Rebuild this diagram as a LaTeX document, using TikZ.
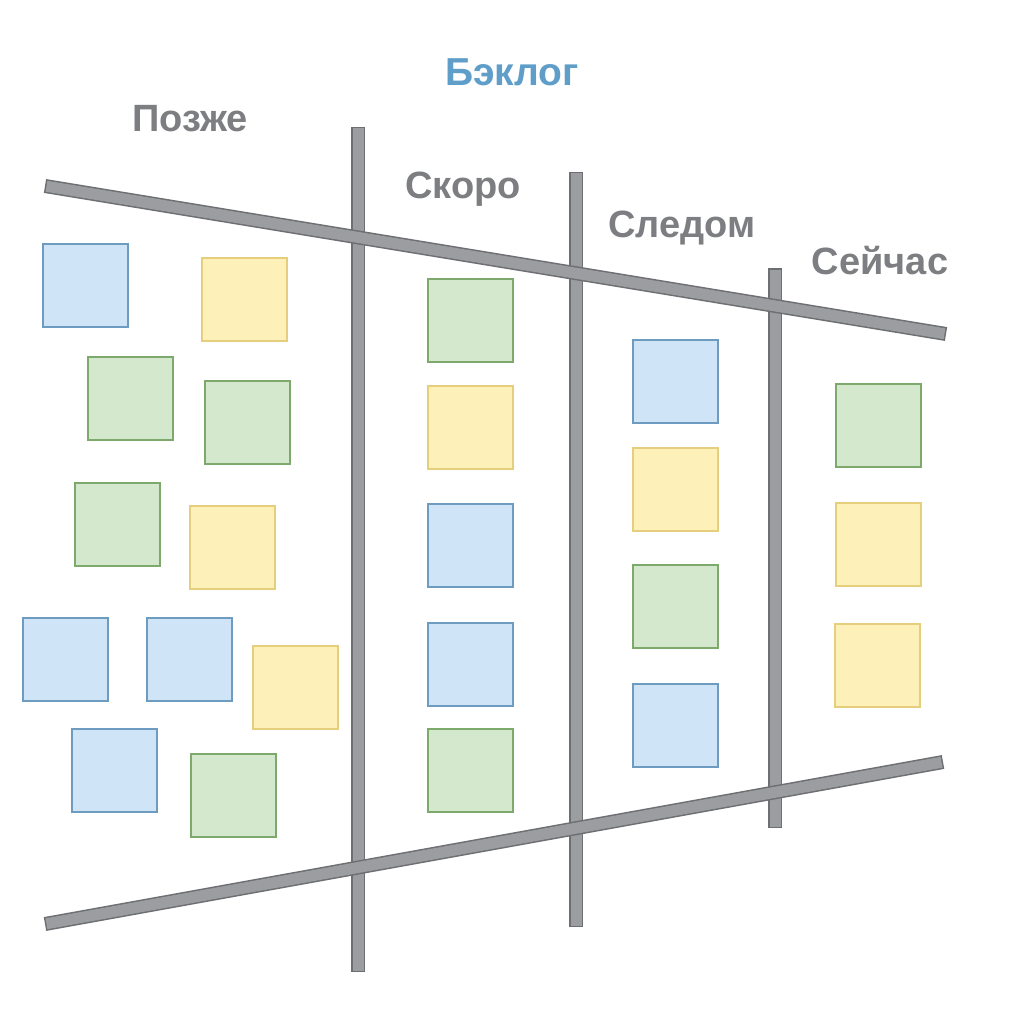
\documentclass[tikz,border=0pt]{standalone}
\usepackage{fontspec}
\setmainfont{Liberation Sans}
\usepackage{tikz}

\definecolor{barfill}{HTML}{9C9DA0}
\definecolor{baredge}{HTML}{6E6F72}
\definecolor{headgray}{HTML}{7D7E81}
\definecolor{headblue}{HTML}{5E9EC9}
\definecolor{bluefill}{HTML}{CFE5F7}
\definecolor{blueedge}{HTML}{6E9BC0}
\definecolor{yellowfill}{HTML}{FDF0B8}
\definecolor{yellowedge}{HTML}{E5CE7C}
\definecolor{greenfill}{HTML}{D4E8CD}
\definecolor{greenedge}{HTML}{7DA96D}

\tikzset{
  note/.style={draw,line width=1.6pt,minimum width=85pt,minimum height=83pt,inner sep=0pt},
  bluenote/.style={note,fill=bluefill,draw=blueedge},
  yellownote/.style={note,fill=yellowfill,draw=yellowedge},
  greennote/.style={note,fill=greenfill,draw=greenedge},
  head/.style={font=\fontsize{38}{43}\selectfont\bfseries,text=headgray},
  baredge/.style={draw=baredge,line width=14pt},
  barcore/.style={draw=barfill,line width=11pt,shorten <=1.5pt,shorten >=1.5pt}
}

\begin{document}
\begin{tikzpicture}[x=1pt,y=-1pt]
\useasboundingbox[fill=white] (0,0) rectangle (1024,1024);

% Headings
\node[head,text=headblue,font=\fontsize{39}{44}\selectfont\bfseries] (backlog) at (512,72) {Бэклог};
\node[head] (later) at (190,119) {Позже};
\node[head] (soon) at (463,189) {Скоро};
\node[head] (next) at (682,228) {Следом};
\node[head] (now) at (880,261) {Сейчас};

% Bar ends
\coordinate (v1a) at (358,127);
\coordinate (v1b) at (358,972);
\coordinate (v2a) at (576,172);
\coordinate (v2b) at (576,927);
\coordinate (v3a) at (775,268);
\coordinate (v3b) at (775,828);
\coordinate (ta) at (45,186);
\coordinate (tb) at (946,334);
\coordinate (ba) at (45,924);
\coordinate (bb) at (943,762);

% Vertical bars
\foreach \a/\b in {v1a/v1b,v2a/v2b,v3a/v3b}{
  \draw[baredge] (\a) -- (\b);
  \draw[barcore] (\a) -- (\b);
}

% Diagonal bars
\foreach \a/\b in {ta/tb,ba/bb}{
  \draw[baredge] (\a) -- (\b);
  \draw[barcore] (\a) -- (\b);
}

% Notes: Позже
\node[bluenote] (l1) at (85.5,285.5) {};
\node[yellownote] (l2) at (244.5,299.5) {};
\node[greennote] (l3) at (130.5,398.5) {};
\node[greennote] (l4) at (247.5,422.5) {};
\node[greennote] (l5) at (117.5,524.5) {};
\node[yellownote] (l6) at (232.5,547.5) {};
\node[bluenote] (l7) at (65.5,659.5) {};
\node[bluenote] (l8) at (189.5,659.5) {};
\node[yellownote] (l9) at (295.5,687.5) {};
\node[bluenote] (l10) at (114.5,770.5) {};
\node[greennote] (l11) at (233.5,795.5) {};

% Notes: Скоро
\node[greennote] (s1) at (470.5,320.5) {};
\node[yellownote] (s2) at (470.5,427.5) {};
\node[bluenote] (s3) at (470.5,545.5) {};
\node[bluenote] (s4) at (470.5,664.5) {};
\node[greennote] (s5) at (470.5,770.5) {};

% Notes: Следом
\node[bluenote] (n1) at (675.5,381.5) {};
\node[yellownote] (n2) at (675.5,489.5) {};
\node[greennote] (n3) at (675.5,606.5) {};
\node[bluenote] (n4) at (675.5,725.5) {};

% Notes: Сейчас
\node[greennote] (w1) at (878.5,425.5) {};
\node[yellownote] (w2) at (878.5,544.5) {};
\node[yellownote] (w3) at (877.5,665.5) {};
\end{tikzpicture}
\end{document}
